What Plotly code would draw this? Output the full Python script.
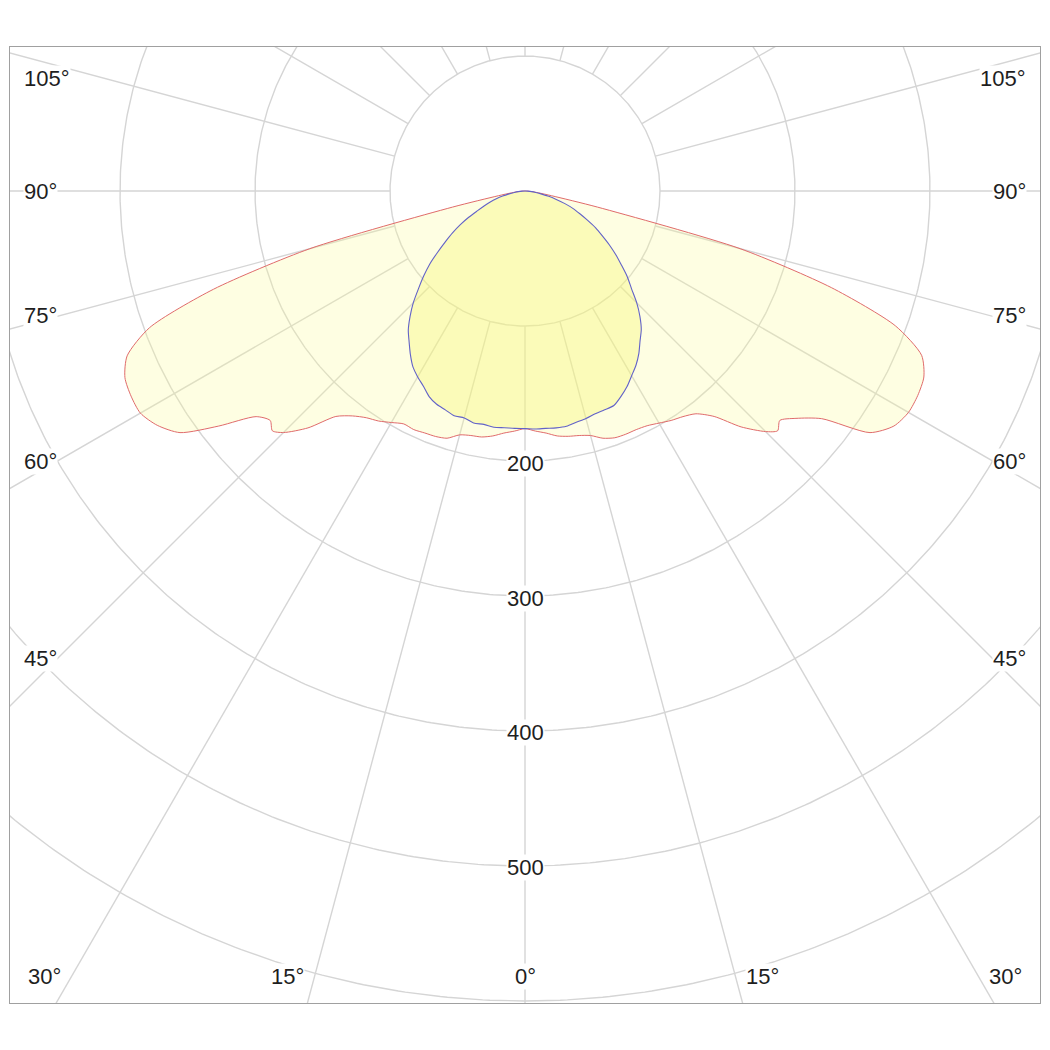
import numpy as np
import plotly.graph_objects as go

# vertical angle from nadir (deg) for the wide plane (C90 right / C270 left)
c90_gamma = [0, 2.5, 5, 7.5, 10, 12.5, 15, 17.5, 20, 22.5,
             25, 27.5, 30, 32.5, 35, 37.5, 40, 42.5, 45, 46.5,
             48, 50, 52.5, 55, 57.5, 60, 62.5, 65, 67.5, 70,
             72.5, 75, 77.5, 80, 82.5, 85, 87.5, 90]
c90_cd = [176, 178, 180, 183, 184.5, 185.5, 187.5, 192, 194.5, 195,
          195, 196, 198.5, 201.5, 204, 208, 218, 237, 252, 258,
          254, 262, 277, 312, 324, 328, 328, 326, 318, 292,
          238, 165, 55, 20, 10, 5, 2, 0]
c270_cd = [176, 178, 180, 183, 185, 185.5, 187, 192, 193.5, 194,
           195, 194.5, 198, 202, 205, 210, 218, 238, 253, 258,
           254, 260, 286, 312, 323, 329, 329, 327, 319, 296,
           242, 165, 55, 20, 10, 5, 2, 0]

# narrow plane (C0 right / C180 left)
c0_gamma = [0, 2.5, 5, 7.5, 10, 12.5, 15, 17.5, 20, 22.5,
            25, 27.5, 30, 32.5, 35, 37.5, 40, 42.5, 45, 47.5,
            50, 52.5, 55, 57.5, 60, 62.5, 65, 67.5, 70, 72.5,
            75, 77.5, 80, 82.5, 85, 87.5, 90]
c0_cd = [176, 176.5, 176.5, 177, 177, 175.5, 174.5, 173, 172.5, 172,
         168, 163.5, 158, 153, 147, 140, 134, 126, 117, 107,
         99, 90, 82, 74, 66, 59, 51, 44, 38, 31,
         24, 18, 12, 8, 5, 2, 0]
c180_cd = [176, 176, 176, 176.5, 175.5, 176, 174, 174.5, 172.5, 171,
           168, 163, 159, 154.5, 148, 141, 134.5, 126, 117, 107,
           98, 89, 79, 70, 62, 54, 46, 38, 32, 27,
           22, 17, 12, 8, 5, 2, 0]

ring_cd = [100, 200, 300, 400, 500, 600]
ring_labels = ["200", "300", "400", "500"]
spoke_deg = list(range(0, 360, 15))
side_labels = ["105°", "90°", "75°", "60°", "45°"]
bottom_labels = ["30°", "15°", "0°", "15°", "30°"]

GRID = "#d5d5d5"
FONT = dict(family="Liberation Sans, Arial, sans-serif", size=22, color="#1e1e1e")


def to_xy(gamma, cd, side):
    g = np.radians(np.asarray(gamma, dtype=float))
    cd = np.asarray(cd, dtype=float)
    return side * cd * np.sin(g), -cd * np.cos(g)


def curve(gamma, left, right):
    xl, yl = to_xy(gamma, left, -1)
    xr, yr = to_xy(gamma, right, 1)
    return np.r_[xl[::-1], xr[1:]], np.r_[yl[::-1], yr[1:]]


fig = go.Figure()

# rings
t = np.linspace(0, 360, 721)
for r in ring_cd:
    gx, gy = to_xy(t, [r] * len(t), 1)
    fig.add_trace(go.Scatter(x=gx, y=gy, mode="lines", hoverinfo="skip",
                             line=dict(color=GRID, width=1.4)))

# spokes, starting at the first ring
sx, sy = [], []
for a in spoke_deg:
    px, py = to_xy([a, a], [ring_cd[0], 1000], 1)
    sx += list(px) + [None]
    sy += list(py) + [None]
fig.add_trace(go.Scatter(x=sx, y=sy, mode="lines", hoverinfo="skip",
                         line=dict(color=GRID, width=1.4)))

# intensity curves
x1, y1 = curve(c90_gamma, c270_cd, c90_cd)
fig.add_trace(go.Scatter(x=x1, y=y1, mode="lines", fill="toself",
                         fillcolor="rgba(250,250,150,0.28)",
                         line=dict(color="#e06b6b", width=1, shape="spline",
                                   smoothing=0.7),
                         name="C90-C270"))
x2, y2 = curve(c0_gamma, c180_cd, c0_cd)
fig.add_trace(go.Scatter(x=x2, y=y2, mode="lines", fill="toself",
                         fillcolor="rgba(245,245,110,0.35)",
                         line=dict(color="#6262c8", width=1.1, shape="spline",
                                   smoothing=0.7),
                         name="C0-C180"))

# labels
ann = []
for r, txt in zip(ring_cd[1:], ring_labels):
    ann.append(dict(x=0, y=-r, text=txt, yshift=-2))
side_y = [83.7, 0, -91.9, -200, -346]
for txt, yy in zip(side_labels, side_y):
    ann.append(dict(x=-371.9, y=yy, text=txt, xanchor="left"))
    ann.append(dict(x=371.9, y=yy, text=txt, xanchor="right"))
bottom_x = [-355.6, -175.6, 0, 175.6, 355.6]
for txt, xx in zip(bottom_labels, bottom_x):
    ann.append(dict(x=xx, y=-581.5, text=txt))
for a in ann:
    a.update(showarrow=False, font=FONT, bgcolor="white", borderpad=0)
    a.setdefault("xanchor", "center")
    a["yanchor"] = "middle"

fig.update_layout(
    width=1050, height=1050,
    margin=dict(l=2, r=18, t=39, b=55),
    paper_bgcolor="white", plot_bgcolor="white",
    showlegend=False,
    annotations=ann,
)
fig.update_xaxes(range=[-381.5, 381.5], showgrid=False, zeroline=False,
                 showticklabels=False, showline=True, mirror=True,
                 linecolor="#a0a0a0", linewidth=1)
fig.update_yaxes(range=[-601.5, 106.7], showgrid=False, zeroline=False,
                 showticklabels=False, showline=True, mirror=True,
                 linecolor="#a0a0a0", linewidth=1)

fig.write_html("out.html")
